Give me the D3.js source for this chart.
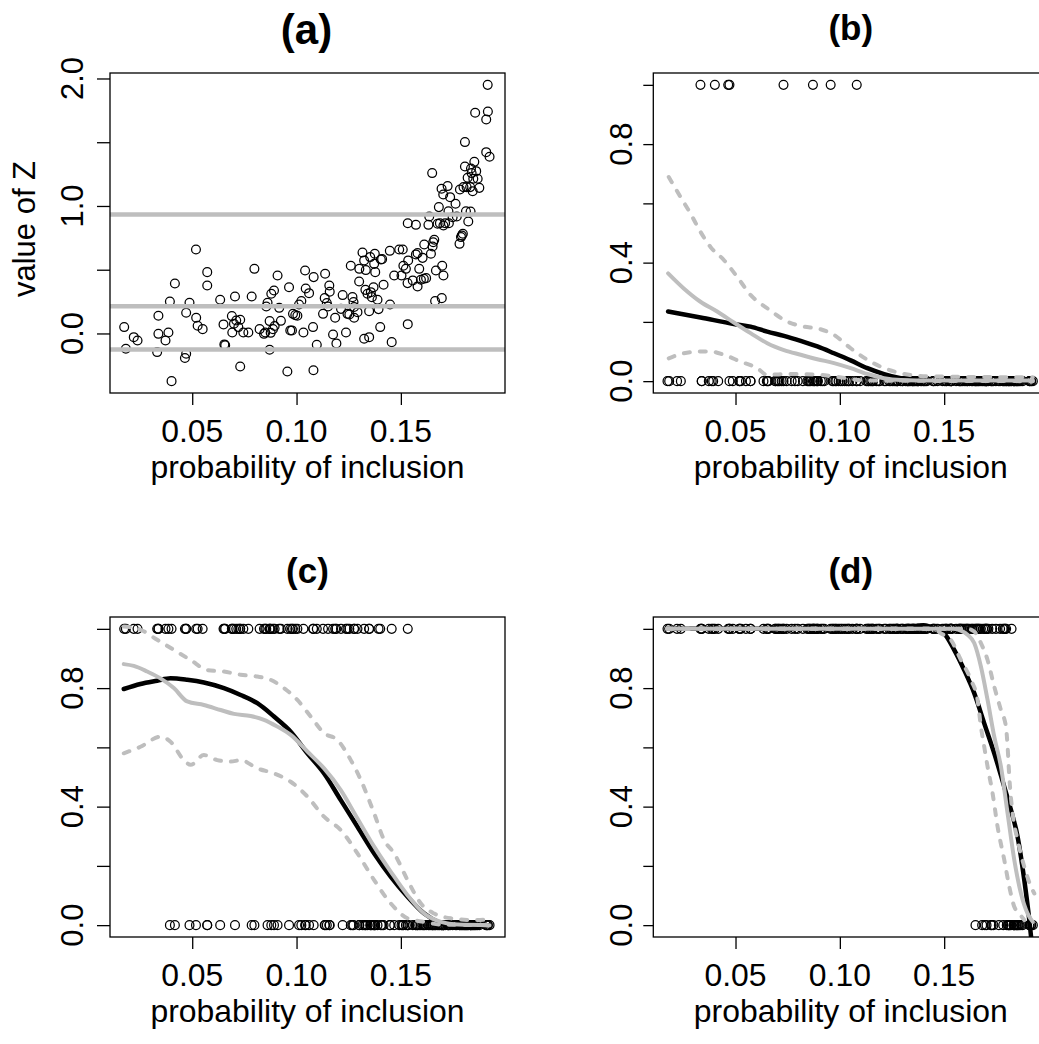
<!DOCTYPE html>
<html><head><meta charset="utf-8">
<script src="https://cdn.jsdelivr.net/npm/d3@7"></script>
<style>
body{margin:0;background:#fff}
svg{display:block}
text{font-family:"Liberation Sans",Arial,Helvetica,sans-serif;fill:#000}
</style>
</head><body>
<svg id="chart" width="1039" height="1044"></svg>
<script>
// ---------------- data ----------------
const pInclusion = [
0.0174,0.0182,0.0220,0.0238,0.0332,0.0338,0.0338,0.0372,0.0386,0.0393,
0.0401,0.0417,0.0465,0.0471,0.0471,0.0487,0.0518,0.0519,0.0526,0.0550,
0.0572,0.0572,0.0634,0.0650,0.0654,0.0658,0.0690,0.0692,0.0700,0.0705,
0.0711,0.0730,0.0730,0.0721,0.0745,0.0769,0.0785,0.0798,0.0823,0.0844,
0.0850,0.0855,0.0861,0.0871,0.0871,0.0876,0.0879,0.0887,0.0892,0.0895,
0.0909,0.0917,0.0925,0.0956,0.0964,0.0970,0.0978,0.0983,0.0994,0.1004,
0.1012,0.1023,0.1033,0.1041,0.1044,0.1060,0.1079,0.1081,0.1082,0.1097,
0.1127,0.1135,0.1137,0.1145,0.1151,0.1157,0.1159,0.1175,0.1185,0.1191,
0.1213,0.1221,0.1237,0.1244,0.1253,0.1260,0.1268,0.1273,0.1276,0.1276,
0.1292,0.1300,0.1301,0.1316,0.1324,0.1324,0.1330,0.1332,0.1340,0.1348,
0.1348,0.1353,0.1356,0.1361,0.1369,0.1372,0.1375,0.1377,0.1388,0.1393,
0.1401,0.1404,0.1410,0.1417,0.1447,0.1448,0.1456,0.1468,0.1492,0.1503,
0.1509,0.1512,0.1524,0.1532,0.1533,0.1533,0.1535,0.1557,0.1572,0.1572,
0.1580,0.1580,0.1588,0.1596,0.1604,0.1610,0.1621,0.1612,0.1632,0.1636,
0.1644,0.1650,0.1652,0.1655,0.1660,0.1664,0.1668,0.1676,0.1682,0.1687,
0.1695,0.1696,0.1698,0.1703,0.1704,0.1704,0.1712,0.1724,0.1730,0.1736,
0.1728,0.1748,0.1762,0.1768,0.1781,0.1783,0.1788,0.1792,0.1797,0.1800,
0.1807,0.1807,0.1812,0.1815,0.1820,0.1823,0.1832,0.1834,0.1836,0.1839,
0.1844,0.1847,0.1852,0.1856,0.1861,0.1868,0.1876,0.1909,0.1909,0.1916,
0.1917,0.1925];

const zValue = [
0.050,-0.120,-0.029,-0.055,-0.146,0.139,-0.003,-0.055,0.008,0.251,
-0.374,0.392,-0.193,-0.159,0.162,0.241,0.659,0.123,0.060,0.034,
0.481,0.376,0.264,0.071,-0.086,-0.092,0.136,0.008,0.076,0.290,
0.102,0.107,-0.259,0.050,0.008,0.008,0.290,0.507,0.034,-0.003,
0.008,0.212,0.241,0.097,-0.128,0.005,0.311,0.034,0.337,0.058,
0.455,0.201,0.099,-0.298,0.363,0.024,0.024,0.154,0.144,0.139,
0.227,0.254,0.008,0.494,0.353,0.316,0.050,-0.288,0.442,-0.089,
0.154,0.277,0.468,0.238,0.212,0.376,0.327,-0.008,0.123,-0.078,
0.193,0.301,0.008,0.154,0.149,0.531,0.285,0.246,0.207,0.123,
0.167,0.408,0.507,0.635,0.573,-0.042,0.342,0.497,0.311,-0.029,
0.175,0.599,0.324,0.285,0.363,0.546,0.625,0.481,0.264,0.191,
0.050,0.580,0.583,0.382,0.648,0.227,-0.068,0.455,0.659,0.455,
0.659,0.531,0.507,0.395,0.073,0.865,0.573,0.416,0.852,0.620,
0.630,0.369,0.507,0.421,0.593,0.429,0.434,0.698,0.852,0.918,
0.625,1.258,0.682,0.716,0.735,0.254,0.494,0.860,0.991,0.865,
1.135,0.277,0.531,1.090,0.455,0.847,0.865,1.156,0.865,1.069,
0.959,0.912,1.017,0.918,0.703,1.129,0.756,0.769,0.782,1.148,
1.501,1.310,0.959,1.148,1.221,0.878,1.148,0.957,1.294,1.258,
1.116,1.213,1.346,1.731,1.273,1.213,1.142,1.422,1.678,1.950,
1.741,1.386];

// cut-offs drawn as gray lines in (a); panels b, c, d show the indicator Z < cut-off
const zCutoffs = [-0.125, 0.214, 0.933];

// smoothed curves [probability, estimate]
const bBlack = [[0.0177,0.235],[0.0332,0.215],[0.0492,0.193],[0.0572,0.184],[0.0652,0.167],[0.0732,0.153],[0.0812,0.136],[0.0892,0.117],[0.0972,0.094],[0.1052,0.070],[0.1132,0.044],[0.1212,0.024],[0.1292,0.010],[0.1372,0.002],[0.1452,0],[0.1612,0],[0.1772,0],[0.1925,0]];
const bGray = [[0.0177,0.364],[0.0252,0.313],[0.0332,0.268],[0.0412,0.235],[0.0492,0.198],[0.0572,0.162],[0.0652,0.128],[0.0732,0.105],[0.0812,0.089],[0.0892,0.074],[0.0972,0.061],[0.1052,0.044],[0.1132,0.024],[0.1212,0.010],[0.1292,0.004],[0.1452,0.002],[0.1925,0.002]];
const bUpper = [[0.0180,0.689],[0.0236,0.622],[0.0284,0.566],[0.0332,0.504],[0.0380,0.453],[0.0444,0.409],[0.0508,0.352],[0.0572,0.291],[0.0652,0.246],[0.0748,0.201],[0.0828,0.184],[0.0892,0.178],[0.0972,0.156],[0.1052,0.111],[0.1132,0.072],[0.1212,0.044],[0.1292,0.027],[0.1372,0.018],[0.1452,0.016],[0.1925,0.013]];
const bLower = [[0.0180,0.077],[0.0252,0.094],[0.0332,0.100],[0.0380,0.100],[0.0444,0.089],[0.0524,0.066],[0.0604,0.044],[0.0652,0.021],[0.0732,0.024],[0.0892,0.022],[0.0972,0.016],[0.1132,0.002],[0.1925,0]];

const cBlack = [[0.0172,0.797],[0.0252,0.814],[0.0332,0.825],[0.0396,0.833],[0.0476,0.828],[0.0556,0.819],[0.0652,0.800],[0.0732,0.777],[0.0812,0.749],[0.0892,0.704],[0.0972,0.653],[0.1052,0.580],[0.1132,0.512],[0.1212,0.422],[0.1292,0.332],[0.1372,0.242],[0.1452,0.163],[0.1532,0.096],[0.1612,0.039],[0.1692,0.006],[0.1772,-0.006],[0.1852,-0.006],[0.1925,0]];
const cGray = [[0.0172,0.881],[0.0220,0.875],[0.0284,0.856],[0.0348,0.833],[0.0412,0.800],[0.0476,0.755],[0.0556,0.743],[0.0636,0.726],[0.0700,0.713],[0.0780,0.706],[0.0844,0.693],[0.0908,0.670],[0.0972,0.642],[0.1052,0.586],[0.1132,0.529],[0.1212,0.456],[0.1292,0.360],[0.1372,0.265],[0.1452,0.180],[0.1532,0.101],[0.1612,0.039],[0.1692,0.011],[0.1772,0.002],[0.1925,0]];
const cUpper = [[0.0172,1.008],[0.0252,0.997],[0.0332,0.963],[0.0412,0.929],[0.0492,0.895],[0.0572,0.861],[0.0652,0.856],[0.0732,0.845],[0.0812,0.839],[0.0876,0.828],[0.0940,0.800],[0.1004,0.760],[0.1068,0.704],[0.1132,0.648],[0.1196,0.625],[0.1260,0.557],[0.1308,0.490],[0.1372,0.377],[0.1420,0.287],[0.1468,0.242],[0.1532,0.152],[0.1596,0.073],[0.1660,0.039],[0.1740,0.023],[0.1852,0.017],[0.1925,0.019]];
const cLower = [[0.0172,0.580],[0.0252,0.602],[0.0348,0.636],[0.0396,0.619],[0.0460,0.557],[0.0492,0.541],[0.0556,0.574],[0.0620,0.557],[0.0684,0.552],[0.0732,0.557],[0.0812,0.529],[0.0892,0.512],[0.0972,0.484],[0.1052,0.434],[0.1132,0.366],[0.1212,0.321],[0.1292,0.242],[0.1372,0.152],[0.1452,0.073],[0.1532,0.023],[0.1612,0.011],[0.1692,0.002],[0.1925,0]];

const dBlack = [[0.0172,1.0],[0.1244,1.0],[0.1340,1.005],[0.1400,1.012],[0.1452,1.002],[0.1500,0.985],[0.1548,0.929],[0.1596,0.861],[0.1644,0.783],[0.1692,0.681],[0.1740,0.580],[0.1788,0.467],[0.1820,0.389],[0.1852,0.298],[0.1884,0.152],[0.1908,0.017],[0.1918,-0.050]];
const dGray = [[0.0172,1.0],[0.1548,1.0],[0.1580,0.994],[0.1612,0.980],[0.1644,0.952],[0.1676,0.873],[0.1708,0.760],[0.1740,0.636],[0.1772,0.535],[0.1804,0.377],[0.1836,0.220],[0.1868,0.107],[0.1900,0.039],[0.1925,0.011]];
const dUpper = [[0.0172,1.0],[0.1612,1.0],[0.1644,0.991],[0.1676,0.952],[0.1708,0.895],[0.1740,0.805],[0.1772,0.726],[0.1796,0.670],[0.1804,0.602],[0.1812,0.501],[0.1828,0.377],[0.1852,0.287],[0.1884,0.197],[0.1916,0.130],[0.1932,0.107]];
const dLower = [[0.0172,1.0],[0.1452,1.0],[0.1484,0.985],[0.1532,0.963],[0.1580,0.895],[0.1628,0.828],[0.1660,0.760],[0.1676,0.670],[0.1692,0.602],[0.1708,0.535],[0.1732,0.445],[0.1756,0.332],[0.1788,0.220],[0.1812,0.130],[0.1836,0.062],[0.1860,0.039],[0.1884,0.017]];

const xTicks = [0.05, 0.10, 0.15];
const zTicks = [0, 0.5, 1, 1.5, 2];
const zTickLabels = [0, 1, 2];
const pTicks = [0, 0.2, 0.4, 0.6, 0.8, 1.0];
const pTickLabels = [0, 0.4, 0.8];
const panelTitles = ["(a)", "(b)", "(c)", "(d)"];
const xTitle = "probability of inclusion";
const yTitleA = "value of Z";

// ---------------- layout ----------------
const xLimits = [0.0106, 0.1999];
const zLimits = [-0.467, 2.043];
const pLimits = [-0.04, 1.04];
const FS = 31, SX = 1.03;
const GRAY = "#bebebe";

const svg = d3.select("#chart");
svg.append("rect").attr("width", 1039).attr("height", 1044).attr("fill", "#fff");

const panels = [
  {id:"a", left:110,   top:73,  w:395, h:320, yLim:zLimits, yT:zTicks, yL:zTickLabels, tick:13, labOff:27, title:panelTitles[0], tfs:42, tBase:44},
  {id:"b", left:653.3, top:73,  w:395, h:320, yLim:pLimits, yT:pTicks, yL:pTickLabels, tick:10, labOff:21.5, title:panelTitles[1], tfs:35, tBase:40, cut:zCutoffs[0], curves:[bBlack,bGray,bUpper,bLower]},
  {id:"c", left:110,   top:617, w:395, h:320, yLim:pLimits, yT:pTicks, yL:pTickLabels, tick:13, labOff:27, title:panelTitles[2], tfs:35, tBase:583, cut:zCutoffs[1], curves:[cBlack,cGray,cUpper,cLower]},
  {id:"d", left:653.3, top:617, w:395, h:320, yLim:pLimits, yT:pTicks, yL:pTickLabels, tick:10, labOff:21.5, title:panelTitles[3], tfs:35, tBase:583, cut:zCutoffs[2], curves:[dBlack,dGray,dUpper,dLower]}
];

const fmt2 = d3.format(".2f"), fmt1 = d3.format(".1f");

panels.forEach(p => {
  const x = d3.scaleLinear().domain(xLimits).range([p.left, p.left + p.w]);
  const y = d3.scaleLinear().domain(p.yLim).range([p.top + p.h, p.top]);
  const g = svg.append("g");
  const clipId = "clip-" + p.id;
  svg.append("clipPath").attr("id", clipId).append("rect")
    .attr("x", p.left).attr("y", p.top).attr("width", p.w).attr("height", p.h);
  const inner = g.append("g").attr("clip-path", `url(#${clipId})`);

  let pts;
  if (p.id === "a") {
    pts = pInclusion.map((v, i) => [v, zValue[i]]);
  } else {
    pts = pInclusion.map((v, i) => [v, zValue[i] < p.cut ? 1 : 0]);
  }
  inner.selectAll("circle").data(pts).join("circle")
    .attr("cx", d => x(d[0])).attr("cy", d => y(d[1])).attr("r", 4.4)
    .attr("fill", "none").attr("stroke", "#000").attr("stroke-width", 1.25);

  if (p.id === "a") {
    inner.selectAll("line.cut").data(zCutoffs).join("line").attr("class", "cut")
      .attr("x1", p.left).attr("x2", p.left + p.w)
      .attr("y1", d => y(d)).attr("y2", d => y(d))
      .attr("stroke", GRAY).attr("stroke-width", 4.5);
  } else {
    const line = d3.line().x(d => x(d[0])).y(d => y(d[1])).curve(d3.curveMonotoneX);
    const [blk, gry, up, lo] = p.curves;
    inner.append("path").attr("d", line(blk)).attr("fill", "none").attr("stroke", "#000")
      .attr("stroke-width", 4.5).attr("stroke-linecap", "round").attr("stroke-linejoin", "round");
    inner.append("path").attr("d", line(gry)).attr("fill", "none").attr("stroke", GRAY)
      .attr("stroke-width", 4).attr("stroke-linecap", "round").attr("stroke-linejoin", "round");
    [up, lo].forEach(c => {
      inner.append("path").attr("d", line(c)).attr("fill", "none").attr("stroke", GRAY)
        .attr("stroke-width", 4).attr("stroke-dasharray", "6 10")
        .attr("stroke-linecap", "round").attr("stroke-linejoin", "round");
    });
  }

  // box
  g.append("rect").attr("x", p.left).attr("y", p.top).attr("width", p.w).attr("height", p.h)
    .attr("fill", "none").attr("stroke", "#000").attr("stroke-width", 1.3);

  // x axis ticks
  const xa = g.append("g").attr("transform", `translate(0,${p.top + p.h})`)
    .call(d3.axisBottom(x).tickValues(xTicks).tickSize(12).tickFormat(""));
  xa.select(".domain").remove();
  xa.selectAll("line").attr("stroke", "#000").attr("stroke-width", 1.3);
  g.selectAll("text.xl").data(xTicks).join("text").attr("class", "xl")
    .attr("transform", d => `translate(${x(d)},${p.top + p.h + 49}) scale(${SX},1)`)
    .attr("text-anchor", "middle").attr("font-size", FS).text(d => fmt2(d));
  g.append("text")
    .attr("transform", `translate(${p.left + p.w / 2},${p.top + p.h + 85}) scale(${SX},1)`)
    .attr("text-anchor", "middle").attr("font-size", FS).text(xTitle);

  // y axis ticks
  const ya = g.append("g").attr("transform", `translate(${p.left},0)`)
    .call(d3.axisLeft(y).tickValues(p.yT).tickSize(p.tick).tickFormat(""));
  ya.select(".domain").remove();
  ya.selectAll("line").attr("stroke", "#000").attr("stroke-width", 1.3);
  g.selectAll("text.yl").data(p.yL).join("text").attr("class", "yl")
    .attr("transform", d => `translate(${p.left - p.labOff},${y(d)}) scale(${SX},1) rotate(-90)`)
    .attr("text-anchor", "middle").attr("font-size", FS).text(d => fmt1(d));

  // title
  svg.append("text").attr("x", p.left + p.w / 2 - (p.id === "a" ? 1 : 0)).attr("y", p.tBase)
    .attr("text-anchor", "middle").attr("font-size", p.tfs).attr("font-weight", "bold").text(p.title);

  if (p.id === "a") {
    svg.append("text").attr("transform", `translate(35,229) scale(${SX},1) rotate(-90)`)
      .attr("text-anchor", "middle").attr("font-size", FS).text(yTitleA);
  }
});
</script>
</body></html>
